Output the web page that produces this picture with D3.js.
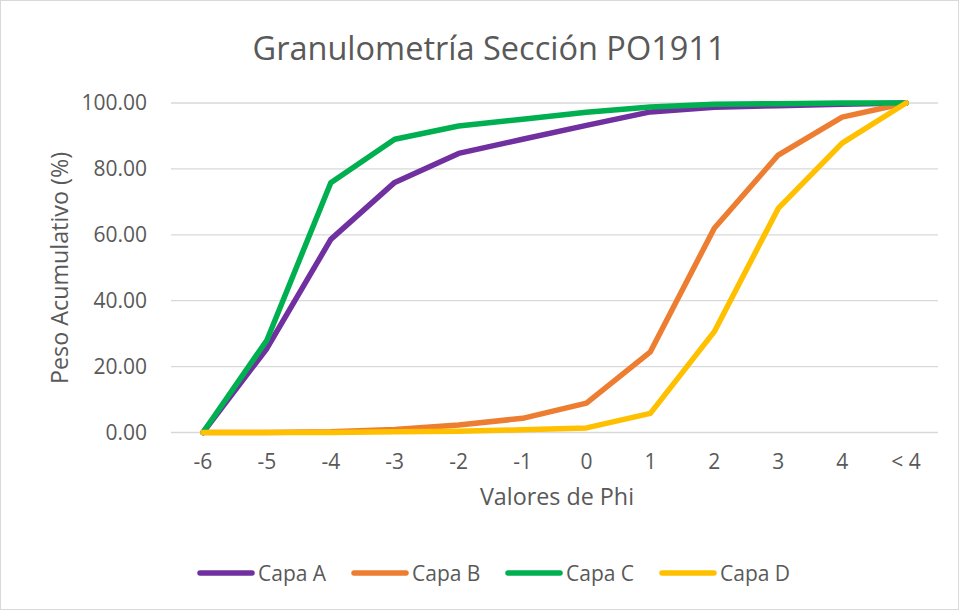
<!DOCTYPE html>
<html>
<head>
<meta charset="utf-8">
<script src="https://cdn.jsdelivr.net/npm/d3@7"></script>
<style>
  body { margin: 0; background: #fff; }
  text { font-family: "Open Sans", sans-serif; fill: #595959; }
</style>
</head>
<body>
<div id="chart"></div>
<script>
// Categories (phi values) and cumulative weight per layer
const categories = ["-6", "-5", "-4", "-3", "-2", "-1", "0", "1", "2", "3", "4", "< 4"];
const capaA = [0, 25.5, 58.6, 75.9, 84.7, 89.0, 93.2, 97.3, 98.7, 99.2, 99.6, 100];
const capaB = [0, 0, 0.2, 0.9, 2.3, 4.3, 8.9, 24.5, 62.0, 84.2, 95.7, 100];
const capaC = [0, 28.0, 75.8, 89.0, 93.0, 95.1, 97.2, 98.8, 99.6, 99.8, 100, 100];
const capaD = [0, 0, 0, 0.2, 0.4, 0.8, 1.4, 5.8, 30.6, 68.0, 87.8, 100];
const seriesNames = ["Capa A", "Capa B", "Capa C", "Capa D"];
const seriesColors = ["#7030A0", "#ED7D31", "#00B050", "#FFC000"];
const yTicks = [0, 20, 40, 60, 80, 100];

const series = [capaA, capaB, capaC, capaD];

const W = 960, H = 611;
const margin = {top: 103, right: 22, bottom: 178.5, left: 171};
const width = W - margin.left - margin.right;
const height = H - margin.top - margin.bottom;

const svg = d3.select('#chart').append('svg')
  .attr('width', W)
  .attr('height', H);

// outer chart border
svg.append('rect')
  .attr('x', 0.5).attr('y', 0.5)
  .attr('width', W - 2).attr('height', H - 2)
  .attr('fill', '#fff')
  .attr('stroke', '#d9d9d9');

const g = svg.append('g')
  .attr('transform', 'translate(' + margin.left + ',' + margin.top + ')');

const x = d3.scaleBand()
  .domain(categories)
  .range([0, width]);

const y = d3.scaleLinear()
  .domain([0, 100])
  .range([height, 0]);

// gridlines
g.selectAll('.grid')
  .data(yTicks)
  .enter()
  .append('line')
  .attr('x1', 0).attr('x2', width)
  .attr('y1', function(d) { return y(d); })
  .attr('y2', function(d) { return y(d); })
  .attr('stroke', '#d9d9d9')
  .attr('stroke-width', 1.3);

// y axis labels
const yAxis = d3.axisLeft(y).tickValues(yTicks).tickSize(0).tickPadding(24)
  .tickFormat(d3.format('.2f'));
const gy = g.append('g').call(yAxis);
gy.select('.domain').remove();
gy.selectAll('text').style('font-size', '21px').attr('fill', '#595959')
  .style('font-family', '"Open Sans", sans-serif');

// x axis labels
const xAxis = d3.axisBottom(x).tickSize(0).tickPadding(22);
const gx = g.append('g')
  .attr('transform', 'translate(0,' + height + ')')
  .call(xAxis);
gx.select('.domain').remove();
gx.selectAll('text').style('font-size', '21px').attr('fill', '#595959')
  .style('font-family', '"Open Sans", sans-serif');

// lines
const line = d3.line()
  .x(function(d, i) { return x(categories[i]) + x.bandwidth() / 2; })
  .y(function(d) { return y(d); });

series.forEach(function(s, i) {
  g.append('path')
    .datum(s)
    .attr('fill', 'none')
    .attr('stroke', seriesColors[i])
    .attr('stroke-width', 5.5)
    .attr('stroke-linejoin', 'round')
    .attr('stroke-linecap', 'round')
    .attr('d', line);
});

// title
svg.append('text')
  .attr('x', 489).attr('y', 60)
  .attr('text-anchor', 'middle')
  .style('font-size', '32.5px')
  .text('Granulometría Sección PO1911');

// axis titles
svg.append('text')
  .attr('x', 557).attr('y', 505)
  .attr('text-anchor', 'middle')
  .style('font-size', '23.3px')
  .text('Valores de Phi');

svg.append('text')
  .attr('transform', 'translate(68,' + 268 + ') rotate(-90)')
  .attr('text-anchor', 'middle')
  .style('font-size', '23.3px')
  .text('Peso Acumulativo (%)');

// legend
const legend = svg.append('g').attr('transform', 'translate(198,573)');
seriesNames.forEach(function(name, i) {
  const lg = legend.append('g').attr('transform', 'translate(' + (i * 154) + ',0)');
  lg.append('line')
    .attr('x1', 2).attr('x2', 54)
    .attr('y1', 0).attr('y2', 0)
    .attr('stroke', seriesColors[i])
    .attr('stroke-width', 5.5)
    .attr('stroke-linecap', 'round');
  lg.append('text')
    .attr('x', 60).attr('y', 8)
    .style('font-size', '21px')
    .text(name);
});
</script>
</body>
</html>
